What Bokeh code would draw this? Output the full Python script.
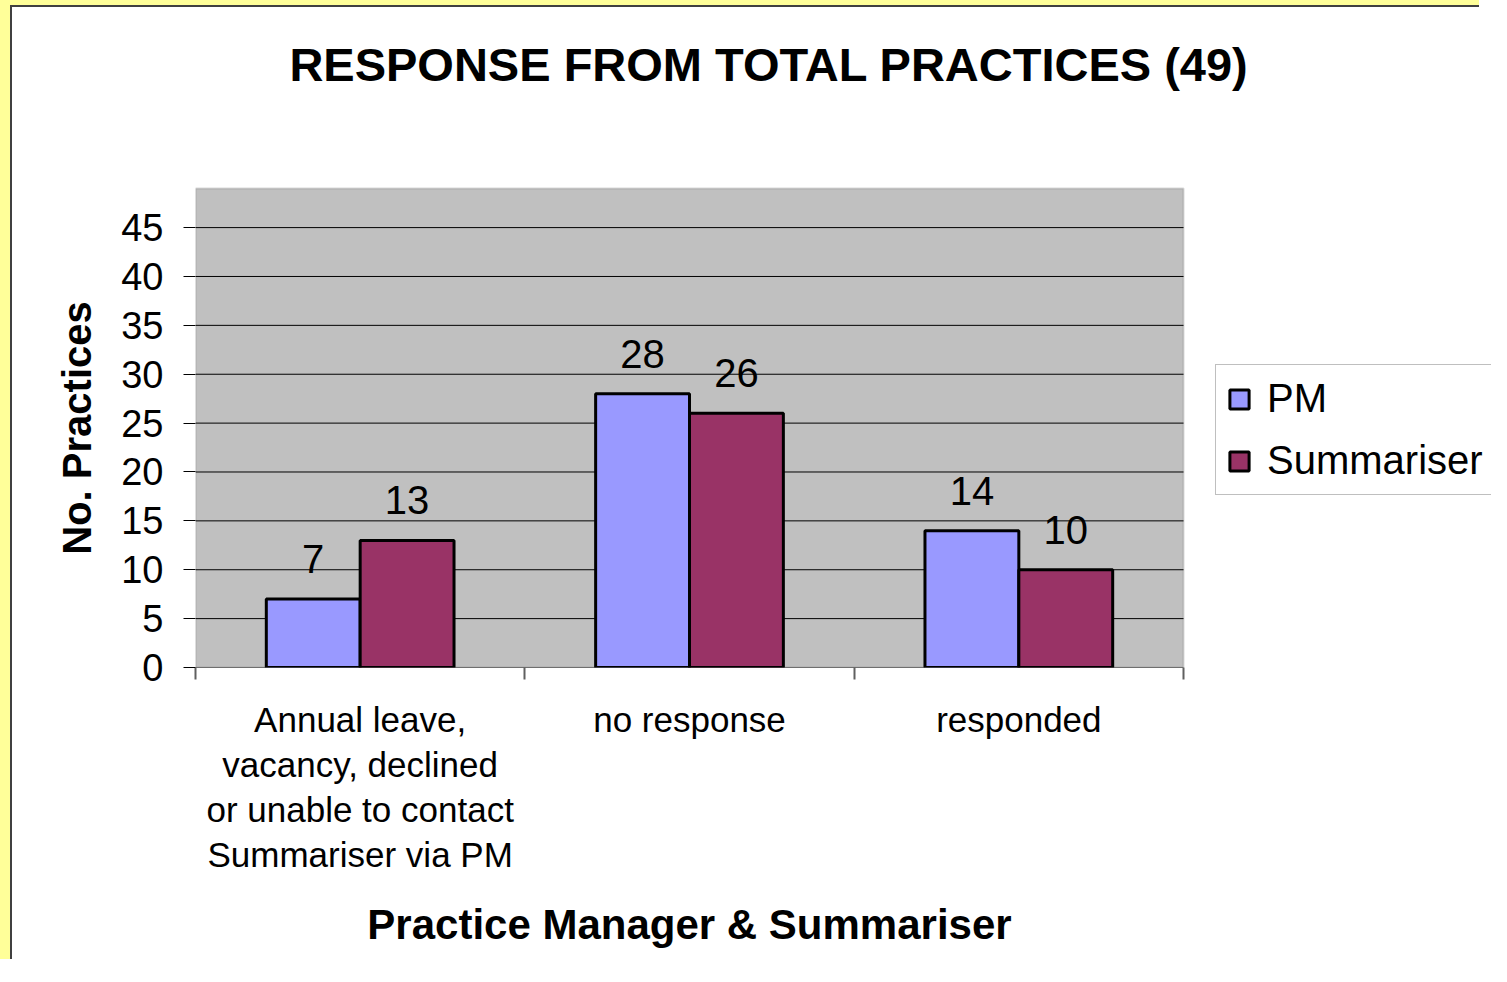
from bokeh.plotting import figure
from bokeh.models import (Range1d, FixedTicker, Legend, LegendItem, Label,
                          BoxAnnotation, ColumnDataSource, LinearAxis)
from bokeh.transform import dodge
from bokeh.embed import file_html
from bokeh.resources import INLINE
from bokeh.core.properties import value

# ---------------- data ----------------
categories = [
    "Annual leave,\nvacancy, declined\nor unable to contact\nSummariser via PM",
    "no response",
    "responded",
]
series_names = ["PM", "Summariser"]
pm_values = [7, 28, 14]
summariser_values = [13, 26, 10]
y_ticks = [0, 5, 10, 15, 20, 25, 30, 35, 40, 45]
title_text = "RESPONSE FROM TOTAL PRACTICES (49)"
x_title = "Practice Manager & Summariser"
y_title = "No. Practices"

# ---------------- layout (pixels) ----------------
FONT = "Liberation Sans"
OX, OY = 12, 7                 # yellow page strip + dark chart-area border (CSS)
W, H = 1491 - OX, 966 - OY     # canvas size
PL, PT, PR, PB = 195 - OX, 188 - OY, 1183 - OX, 667 - OY   # grey plot-area edges
Y_MAX = 49
N = len(categories)
px_x = (PR - PL) / N           # pixels per x unit
px_y = (PB - PT) / Y_MAX       # pixels per y unit

# frame spans from plot-area left/bottom up to the canvas top/right
x_end = (W - PL) / px_x
y_end = PB / px_y

x_pos = [i + 0.5 for i in range(N)]
src = ColumnDataSource(dict(
    x=x_pos,
    pm=pm_values,
    su=summariser_values,
    pm_lbl=[str(v) for v in pm_values],
    su_lbl=[str(v) for v in summariser_values],
))
grid_src = ColumnDataSource(dict(y=y_ticks, x0=[0] * len(y_ticks), x1=[N] * len(y_ticks)))

p = figure(width=W, height=H, x_range=Range1d(0, x_end), y_range=Range1d(0, y_end),
           output_backend="svg", toolbar_location=None,
           min_border_left=PL, min_border_top=0,
           min_border_right=0, min_border_bottom=H - PB,
           styles={"border-left": "10px solid #FFFF99",
                   "border-top": "5px solid #FFFF99",
                   "padding-left": "2px", "padding-top": "2px",
                   "background-color": "white",
                   "background-image": "linear-gradient(to right, #404040 2px, transparent 2px), "
                                       "linear-gradient(to bottom, #404040 2px, transparent 2px)",
                   "background-repeat": "no-repeat"})
p.background_fill_color = "white"
p.border_fill_color = "white"
p.outline_line_color = None
p.grid.visible = False

# grey plot area
p.add_layout(BoxAnnotation(left=0, right=N, bottom=0, top=Y_MAX, level="underlay",
                           fill_color="#C0C0C0", fill_alpha=1,
                           line_color="#808080", line_width=2))
# horizontal gridlines
p.segment(x0="x0", x1="x1", y0="y", y1="y", source=grid_src,
          line_color="black", line_width=1)

# bars
BW = 0.285
r_pm = p.vbar(x=dodge("x", -BW / 2, range=p.x_range), top="pm", width=BW, source=src,
              fill_color="#9999FF", line_color="black", line_width=3)
r_su = p.vbar(x=dodge("x", BW / 2, range=p.x_range), top="su", width=BW, source=src,
              fill_color="#993366", line_color="black", line_width=3)

# value labels
for col, off in (("pm_lbl", -BW / 2), ("su_lbl", BW / 2)):
    p.text(x=dodge("x", off, range=p.x_range), y=col.split("_")[0], text=col, source=src,
           text_align="center", text_baseline="alphabetic", y_offset=-40,
           text_font=value(FONT), text_font_size="40px", text_color="black")

# y axis (ticks)
ya = p.yaxis[0]
ya.ticker = FixedTicker(ticks=y_ticks)
ya.major_tick_out = 12
ya.major_tick_in = 0
ya.minor_tick_out = 0
ya.minor_tick_in = 0
ya.major_tick_line_color = "black"
ya.axis_line_color = None
ya.major_label_standoff = 20
ya.major_label_text_font = FONT
ya.major_label_text_font_size = "38px"
ya.major_label_text_color = "black"

# y axis title: a second left axis with one labelled tick at the plot-area centre
yt = LinearAxis(ticker=FixedTicker(ticks=[Y_MAX / 2]),
                major_label_overrides={Y_MAX / 2: y_title},
                major_label_orientation="vertical",
                major_tick_out=0, major_tick_in=0, minor_tick_out=0, minor_tick_in=0,
                axis_line_color=None, major_label_standoff=20,
                major_label_text_font=FONT, major_label_text_font_style="bold",
                major_label_text_font_size="40px", major_label_text_color="black")
p.add_layout(yt, "left")

# x axis (category labels, boundary ticks)
xa = p.xaxis[0]
xa.ticker = FixedTicker(ticks=x_pos, minor_ticks=list(range(N + 1)))
xa.major_label_overrides = {x: c for x, c in zip(x_pos, categories)}
xa.major_tick_out = 0
xa.major_tick_in = 0
xa.minor_tick_out = 12
xa.minor_tick_in = 0
xa.minor_tick_line_color = "#606060"
xa.minor_tick_line_width = 2
xa.axis_line_color = None
xa.major_label_standoff = 20
xa.major_label_text_font = FONT
xa.major_label_text_font_size = "35px"
xa.major_label_text_line_height = 1.16
xa.major_label_text_color = "black"
xa.major_label_orientation = "horizontal"

# x axis title: a second bottom axis with one labelled tick at the plot-area centre
xt = LinearAxis(ticker=FixedTicker(ticks=[N / 2]),
                major_label_overrides={N / 2: x_title},
                major_tick_out=0, major_tick_in=0, minor_tick_out=0, minor_tick_in=0,
                axis_line_color=None, major_label_standoff=23,
                major_label_text_font=FONT, major_label_text_font_style="bold",
                major_label_text_font_size="42px", major_label_text_color="black")
p.add_layout(xt, "below")

# title (pixel position of its centre converted to data units)
title_cx, title_cy = 768.5 - OX, 64 - OY
p.add_layout(Label(x=(title_cx - PL) / px_x, y=(PB - title_cy) / px_y,
                   text=title_text, text_align="center", text_baseline="middle",
                   text_font=FONT, text_font_style="bold", text_font_size="47px",
                   text_color="black"))

# legend
legend = Legend(items=[LegendItem(label=series_names[0], renderers=[r_pm]),
                       LegendItem(label=series_names[1], renderers=[r_su])],
                location=(1215 - 195, 667 - 495))
legend.border_line_color = "#808080"
legend.border_line_width = 1
legend.background_fill_color = "white"
legend.background_fill_alpha = 1
legend.label_text_font = FONT
legend.label_text_font_size = "40px"
legend.label_text_color = "black"
legend.glyph_width = 24
legend.glyph_height = 24
legend.label_standoff = 16
legend.label_width = 260
legend.padding = 11
legend.spacing = 17
legend.margin = 0
p.add_layout(legend, "center")

open("out.html", "w").write(file_html(p, INLINE))
